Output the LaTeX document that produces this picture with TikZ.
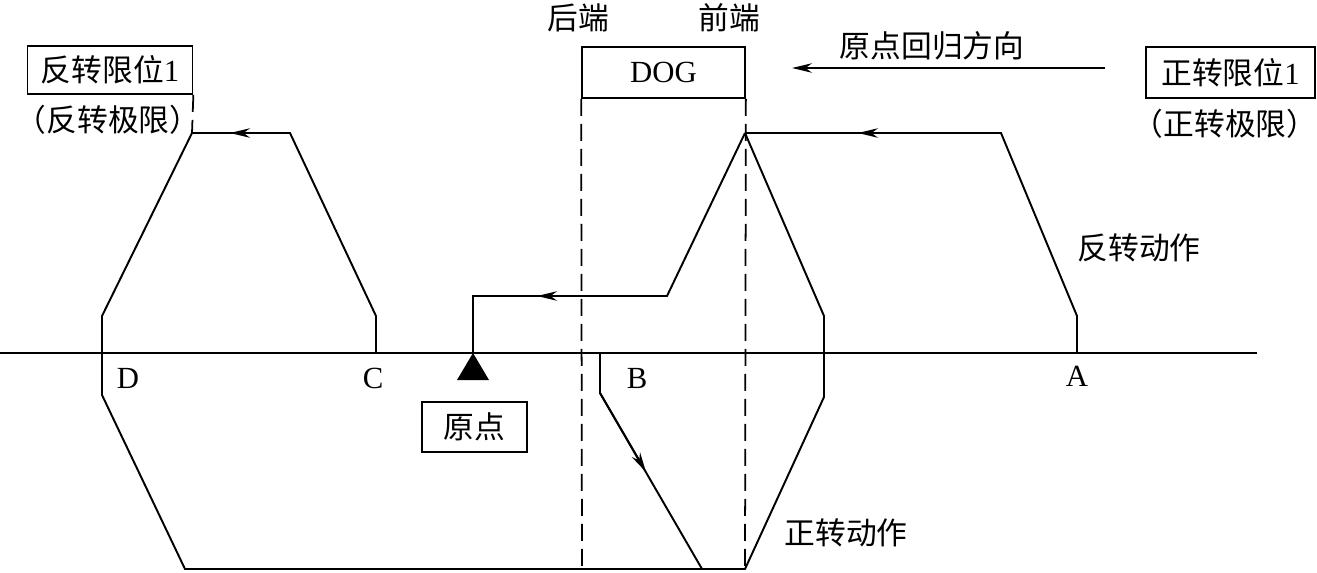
\documentclass[tikz,border=0pt]{standalone}
\usepackage{fontspec}
\setmainfont{Liberation Serif}
\newfontfamily\cjk{Noto Sans CJK SC}
\usetikzlibrary{arrows.meta}
\begin{document}
\begin{tikzpicture}[x=0.02cm,y=-0.02cm,
  ln/.style={line width=1.1pt, line join=miter},
  axisln/.style={line width=0.8pt},
  dsh/.style={line width=1pt, dash pattern=on 0.34cm off 0.16cm},
  tip/.style={-{Stealth[length=4mm,width=1.9mm,inset=1.3mm]}, line width=1.1pt},
  lbl/.style={font=\fontsize{17.5}{20}\selectfont, inner sep=0pt},
  bx/.style={draw, line width=1pt, font=\fontsize{17.5}{20}\selectfont, inner sep=0pt}]
\useasboundingbox (0,0) rectangle (1317,572);

% axis
\coordinate (axL) at (0,353);
\coordinate (axR) at (1257,353);
\draw[axisln] (axL) -- (axR);

% boxes
\node[bx, minimum width=3.3cm, minimum height=0.96cm] (lbox) at (110,70) {{\cjk 反转限位}1};
\node[bx, minimum width=3.26cm, minimum height=1.02cm] (dog) at (663.5,72.5) {DOG};
\node[bx, minimum width=3.38cm, minimum height=1.02cm] (rbox) at (1230.5,72.5) {{\cjk 正转限位}1};
\node[bx, minimum width=2.1cm, minimum height=1.0cm] (orig) at (474.5,427) {\cjk 原点};

% labels
\node[lbl] (llim) at (108,120) {\cjk （反转极限）};
\node[lbl] (rlim) at (1225,124) {\cjk （正转极限）};
\node[lbl] (rear) at (578,18) {\cjk 后端};
\node[lbl] (front) at (729,18) {\cjk 前端};
\node[lbl] (dir) at (932,46) {\cjk 原点回归方向};
\node[lbl] (rev) at (1139,248) {\cjk 反转动作};
\node[lbl] (fwd) at (846,533) {\cjk 正转动作};
\node[lbl] (lD) at (128,378) {D};
\node[lbl] (lC) at (373,378) {C};
\node[lbl] (lB) at (637,378) {B};
\node[lbl] (lA) at (1077,376) {A};

% dashed lines
\coordinate (d1e) at (192,133);
\coordinate (d2e) at (582,569);
\coordinate (d3e) at (745,569);
\draw[dsh] (lbox.south east) -- (d1e);
\draw[dsh] (dog.south west) -- (d2e);
\draw[dsh] (dog.south east) -- (d3e);

% direction arrow
\coordinate (dirS) at (1105,68);
\coordinate (dirE) at (792,68);
\draw[tip] (dirS) -- (dirE);

% key points
\coordinate (A) at (1077,353);
\coordinate (A1) at (1077,316);
\coordinate (A2) at (1001,133);
\coordinate (F) at (745,133);
\coordinate (F1) at (667,296);
\coordinate (O1) at (473,296);
\coordinate (O) at (473,353);
\coordinate (C) at (376,353);
\coordinate (C1) at (376,316);
\coordinate (C2) at (290,133);
\coordinate (L) at (192,133);
\coordinate (D1) at (102,316);
\coordinate (D2) at (102,395);
\coordinate (BL) at (185,569);
\coordinate (BR) at (745,569);
\coordinate (R1) at (824,397);
\coordinate (R2) at (824,316);
\coordinate (B) at (600,353);
\coordinate (B1) at (600,393);
\coordinate (B2) at (702,569);

% paths
\draw[ln] (A) -- (A1) -- (A2) -- (F);
\draw[ln] (F) -- (F1) -- (O1) -- (O);
\draw[ln] (C) -- (C1) -- (C2) -- (L) -- (D1) -- (D2) -- (BL) -- (BR) -- (R1) -- (R2) -- (F);
\draw[ln] (B) -- (B1) -- (B2);

% mid arrows
\coordinate (a1s) at (900,133); \coordinate (a1e) at (858,133);
\coordinate (a2s) at (270,133); \coordinate (a2e) at (230,133);
\coordinate (a3s) at (580,296); \coordinate (a3e) at (537,296);
\coordinate (a4e) at (646,472);
\draw[tip] (a1s) -- (a1e);
\draw[tip] (a2s) -- (a2e);
\draw[tip] (a3s) -- (a3e);
\draw[tip] (B1) -- (a4e);

% origin triangle
\coordinate (t1) at (457,380);
\coordinate (t2) at (489,380);
\fill (O) -- (t1) -- (t2) -- cycle;
\end{tikzpicture}
\end{document}
